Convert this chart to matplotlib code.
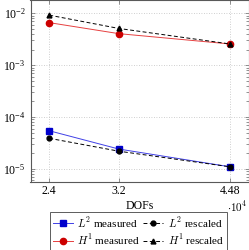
import matplotlib
matplotlib.use("Agg")
import matplotlib.pyplot as plt
from matplotlib.ticker import FixedLocator, LogLocator, NullFormatter

dofs = [2.4, 3.2, 4.48]
xtick_labels = ["2.4", "3.2", "4.48"]
l2_measured = [5.45e-5, 2.42e-5, 1.1e-5]
l2_rescaled = [3.9e-5, 2.2e-5, 1.1e-5]
h1_measured = [6.6e-3, 4.05e-3, 2.56e-3]
h1_rescaled = [9.2e-3, 5.1e-3, 2.56e-3]

plt.rcParams['font.family'] = ['Liberation Serif', 'DejaVu Serif']
plt.rcParams['mathtext.fontset'] = 'cm'

fig = plt.figure(figsize=(2.49, 2.50), dpi=100)
ax = fig.add_axes([30.5/249, 1 - 181.7/250, (248.7-30.5)/249, 181.7/250])

blue = (0.0, 0.0, 0.8)
red = (0.8, 0.0, 0.0)
ax.plot(dofs, l2_measured, color=(0.25, 0.25, 0.9), lw=0.7, marker='s', ms=4,
        mfc=blue, mec=blue, label=r'$L^2$ measured')
ax.plot(dofs, h1_measured, color=(0.9, 0.25, 0.25), lw=0.7, marker='o', ms=4.5,
        mfc=red, mec=red, label=r'$H^1$ measured')
ax.plot(dofs, l2_rescaled, color='black', lw=0.7, ls=(0, (4, 2.5)), marker='o', ms=3.5, label=r'$L^2$ rescaled')
ax.plot(dofs, h1_rescaled, color='black', lw=0.7, ls=(0, (4, 2.5)), marker='^', ms=3.5, label=r'$H^1$ rescaled')

ax.set_yscale('log')
ax.set_xlim(2.184, 4.691)
ax.set_ylim(10**-5.245, 10**-1.744)
ax.xaxis.set_major_locator(FixedLocator(dofs))
ax.set_xticklabels(xtick_labels)
ax.yaxis.set_major_locator(LogLocator(base=10, numticks=10))
ax.yaxis.set_minor_locator(LogLocator(base=10, subs=range(2, 10), numticks=20))
ax.yaxis.set_minor_formatter(NullFormatter())
ax.grid(True, which='major', ls=(0, (1, 2)), color='0.75', lw=0.6)
ax.tick_params(which='both', direction='in', top=True, right=True, labelsize=8.5, width=0.5, color='0.4')
ax.tick_params(axis='x', pad=2.5)
ax.tick_params(which='major', length=3)
ax.tick_params(which='minor', length=2)
for s in ax.spines.values():
    s.set_linewidth(0.8)
    s.set_color('0.35')
fig.text(140/249, 1 - 206/250, 'DOFs', fontsize=8.5, ha='center', va='center')
fig.text(237/249, 1 - 206.5/250, r'$\cdot 10^4$', fontsize=8, ha='center', va='center')

leg = fig.legend(loc='center', bbox_to_anchor=(138.5/249, 1 - 231/250), ncol=2, fontsize=8,
                 frameon=True, fancybox=False, edgecolor='0.2', handlelength=1.8,
                 handletextpad=0.4, columnspacing=0.3, borderpad=0.25, labelspacing=0.25,
                 borderaxespad=0)
leg.get_frame().set_linewidth(0.7)

fig.savefig('out.png', dpi=100)
